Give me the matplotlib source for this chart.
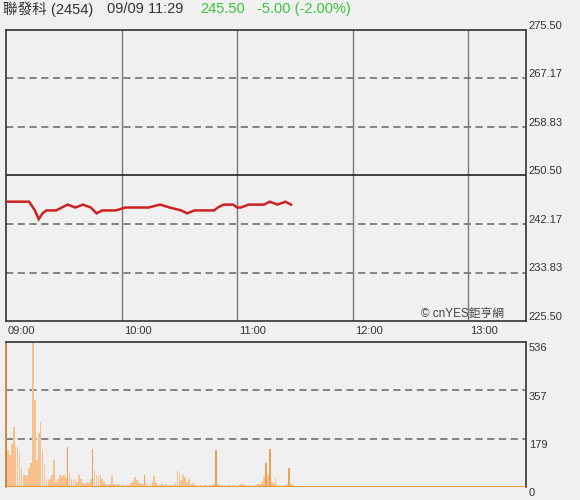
import matplotlib
matplotlib.use("Agg")
import matplotlib.pyplot as plt
from matplotlib import transforms

# ---------------- data ----------------
stock_name = "聯發科"
stock_code = "(2454)"
stamp = "09/09 11:29"
last_price = "245.50"
change_txt = "-5.00 (-2.00%)"

price_ticks = [225.50, 233.83, 242.17, 250.50, 258.83, 267.17, 275.50]
prev_close = 250.50
vol_ticks = [0, 179, 357, 536]
time_labels = ["09:00", "10:00", "11:00", "12:00", "13:00"]
time_label_min = [0, 60, 120, 180, 240]

# price line key points (minutes after 09:00, price)
price_min = [0, 12, 15, 17, 19, 21, 26, 29, 32, 36, 40, 44, 47, 50, 52, 57, 62, 74,
             80, 85, 91, 94, 98, 108, 110, 113, 118, 120, 122, 126, 134, 137, 141, 145, 148]
price_val = [246.0, 246.0, 244.5, 243.0, 244.0, 244.5, 244.5, 245.0, 245.5, 245.0,
             245.5, 245.0, 244.0, 244.5, 244.5, 244.5, 245.0, 245.0, 245.5, 245.0,
             244.5, 244.0, 244.5, 244.5, 245.0, 245.5, 245.5, 245.0, 245.0, 245.5,
             245.5, 246.0, 245.5, 246.0, 245.5]

# per-minute volume, 09:00 .. 11:29
volume = [600, 137, 118, 160, 222, 149, 149, 125, 75, 44,
          44, 40, 70, 90, 536, 321, 100, 200, 241, 137,
          80, 30, 25, 30, 44, 100, 18, 30, 44, 40,
          44, 35, 148, 50, 30, 25, 30, 20, 44, 30,
          15, 10, 20, 15, 30, 140, 62, 44, 40, 44,
          30, 20, 10, 8, 10, 44, 10, 8, 12, 6,
          8, 10, 6, 12, 8, 15, 20, 37, 25, 15,
          10, 12, 44, 10, 8, 12, 20, 40, 15, 8,
          6, 10, 6, 12, 5, 8, 6, 10, 20, 59,
          50, 25, 44, 37, 20, 30, 10, 15, 6, 5,
          8, 6, 5, 6, 8, 5, 6, 8, 10, 137,
          12, 8, 6, 5, 8, 6, 10, 5, 6, 8,
          5, 6, 10, 12, 6, 5, 8, 6, 5, 8,
          6, 10, 12, 20, 37, 89, 44, 140, 20, 15,
          35, 10, 8, 6, 5, 8, 10, 70, 12, 8]

# ---------------- style ----------------
BG = "#f0f0f0"
FRAME = "#333333"
GRID = "#7a7a7a"
dark_bars = {32, 45, 72, 109, 135, 137, 147}
FONT = ["Liberation Sans", "Noto Sans CJK TC", "DejaVu Sans"]
plt.rcParams["font.family"] = FONT

W, H = 580, 500
fig = plt.figure(figsize=(W / 100, H / 100), dpi=100, facecolor=BG)

def fx(px):
    return px / W

def fy(py):
    return 1 - py / H

L, R = 6, 526
ax = fig.add_axes([fx(L), fy(321), fx(R - L), fy(30) - fy(321)], facecolor=BG)
axv = fig.add_axes([fx(L), fy(487), fx(R - L), fy(342) - fy(487)], facecolor=BG)

x_end = 270
# ---- price panel ----
ax.set_xlim(0, x_end)
ax.set_ylim(price_ticks[0], price_ticks[-1])
for m in time_label_min[1:]:
    ax.axvline(m, color=GRID, lw=1, zorder=1)
for p in price_ticks[1:-1]:
    if abs(p - prev_close) < 1e-6:
        ax.axhline(p, color="#222222", lw=1.2, zorder=1)
    else:
        ax.axhline(p, color=GRID, lw=1.3, ls=(0, (4, 2.5)), zorder=1)
ax.plot(price_min, price_val, color="#cc2222", lw=1.8, zorder=3,
        solid_joinstyle="miter")
ax.set_xticks([])
ax.set_yticks([])
for s in ax.spines.values():
    s.set_color(FRAME)
    s.set_linewidth(1.2)

off_up = transforms.offset_copy(ax.get_yaxis_transform(), fig=fig, x=2, y=3, units="points")
for p in price_ticks:
    ax.text(1.0, p, f"{p:.2f}", transform=off_up, ha="left", va="center",
            fontsize=8, color="#333333", clip_on=False)

off_x = transforms.offset_copy(ax.get_xaxis_transform(), fig=fig, x=1.5, y=-7, units="points")
for m, lab in zip(time_label_min, time_labels):
    ax.text(m, 0, lab, transform=off_x, ha="left", va="center",
            fontsize=8, color="#333333", clip_on=False)

ax.text((504 - L) / (R - L), fy(314), "© cnYES鉅亨網",
        transform=transforms.blended_transform_factory(ax.transAxes, fig.transFigure),
        ha="right", va="center", fontsize=8.5, color="#444444", zorder=4)

# ---- volume panel ----
axv.set_xlim(0, x_end)
axv.set_ylim(0, vol_ticks[-1])
for v in vol_ticks[1:-1]:
    axv.axhline(v, color=GRID, lw=1.3, ls=(0, (4, 2.5)), zorder=1)
mins = list(range(len(volume)))
cols = ["#eca255" if i in dark_bars else "#f7c08c" for i in mins]
axv.bar(mins, volume, width=0.85, color=cols, align="center", zorder=2, linewidth=0)
axv.axhline(0, color="#e89030", lw=2.0, zorder=3)
axv.set_xticks([])
axv.set_yticks([])
for s in axv.spines.values():
    s.set_color(FRAME)
    s.set_linewidth(1.2)
axv.spines["bottom"].set_visible(False)
axv.spines["left"].set_color("#c08030")

off_dn = transforms.offset_copy(axv.get_yaxis_transform(), fig=fig, x=2, y=-4.5, units="points")
for v in vol_ticks:
    axv.text(1.0, v, f"{v}", transform=off_dn, ha="left", va="center",
             fontsize=8, color="#333333", clip_on=False)

# ---- header ----
hy = fy(9)
fig.text(fx(3), hy, f"{stock_name} {stock_code}", fontsize=10.5, color="#333333", va="center")
fig.text(fx(107), hy, stamp, fontsize=10.5, color="#333333", va="center")
fig.text(fx(200), hy, last_price, fontsize=10.5, color="#3cc43c", va="center")
fig.text(fx(257), hy, change_txt, fontsize=10.5, color="#3cc43c", va="center")

fig.savefig("out.png", dpi=100, facecolor=BG)
